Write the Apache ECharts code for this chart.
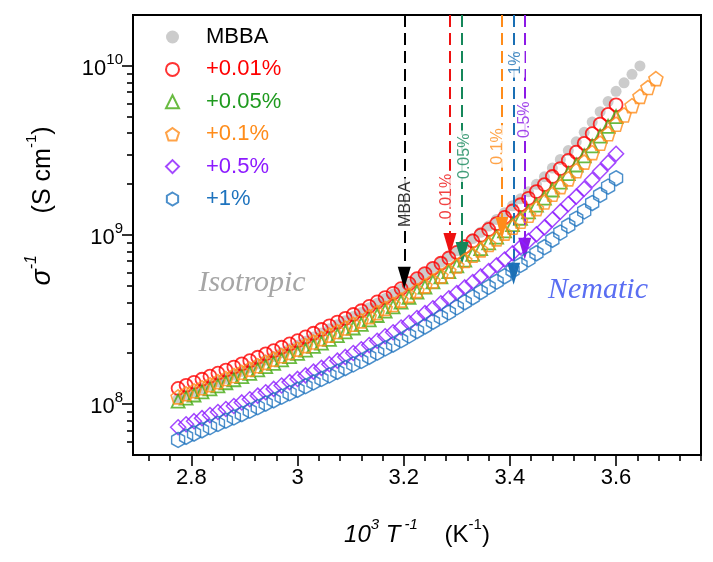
<!DOCTYPE html>
<html><head><meta charset="utf-8">
<script src="https://cdn.jsdelivr.net/npm/echarts@6/dist/echarts.min.js"></script>
<style>html,body{margin:0;padding:0;background:#fff}#c{width:713px;height:562px}</style>
</head><body><div id="c"></div>
<script>
// ---- data ----
const X = [2.775,2.790,2.805,2.820,2.835,2.850,2.865,2.880,2.895,2.910,2.925,2.940,2.955,2.970,2.985,3.000,3.015,3.030,3.045,3.060,3.075,3.090,3.105,3.120,3.135,3.150,3.165,3.180,3.195,3.210,3.225,3.240,3.255,3.270,3.285,3.300,3.315,3.330,3.345,3.360,3.375,3.390,3.405,3.420,3.435,3.450,3.465,3.480,3.495,3.510,3.525,3.540,3.555,3.570,3.585,3.600,3.615,3.630,3.645,3.660,3.675];
const MBBA = [1.076e8,1.127e8,1.180e8,1.236e8,1.294e8,1.355e8,1.419e8,1.486e8,1.560e8,1.641e8,1.726e8,1.820e8,1.910e8,2.014e8,2.123e8,2.228e8,2.355e8,2.495e8,2.636e8,2.786e8,2.944e8,3.112e8,3.296e8,3.483e8,3.715e8,3.954e8,4.217e8,4.477e8,4.797e8,5.140e8,5.534e8,5.957e8,6.427e8,6.902e8,7.447e8,8.072e8,8.770e8,9.528e8,1.038e9,1.130e9,1.236e9,1.355e9,1.489e9,1.637e9,1.803e9,1.995e9,2.208e9,2.489e9,2.799e9,3.155e9,3.556e9,4.046e9,4.656e9,5.358e9,6.152e9,7.079e9,7.943e9,8.913e9,1.000e10];
const P001 = [1.239e8,1.291e8,1.346e8,1.403e8,1.462e8,1.524e8,1.589e8,1.656e8,1.730e8,1.807e8,1.892e8,1.982e8,2.070e8,2.168e8,2.270e8,2.371e8,2.495e8,2.624e8,2.761e8,2.904e8,3.055e8,3.214e8,3.388e8,3.565e8,3.784e8,4.018e8,4.266e8,4.519e8,4.819e8,5.152e8,5.521e8,5.916e8,6.353e8,6.808e8,7.311e8,7.889e8,8.531e8,9.226e8,9.977e8,1.079e9,1.169e9,1.271e9,1.387e9,1.510e9,1.648e9,1.807e9,1.986e9,2.218e9,2.472e9,2.761e9,3.090e9,3.483e9,3.972e9,4.529e9,5.164e9,5.888e9];
const P005 = [1.042e8,1.086e8,1.132e8,1.180e8,1.230e8,1.282e8,1.337e8,1.393e8,1.455e8,1.521e8,1.592e8,1.667e8,1.742e8,1.824e8,1.910e8,1.995e8,2.084e8,2.193e8,2.296e8,2.415e8,2.541e8,2.673e8,2.818e8,2.965e8,3.148e8,3.342e8,3.548e8,3.758e8,4.009e8,4.285e8,4.592e8,4.920e8,5.284e8,5.662e8,6.081e8,6.561e8,7.096e8,7.674e8,8.299e8,8.974e8,9.727e8,1.057e9,1.153e9,1.256e9,1.371e9,1.503e9,1.652e9,1.845e9,2.056e9,2.307e9,2.594e9,2.938e9,3.365e9,3.846e9,4.395e9,5.012e9];
const P01 = [1.104e8,1.151e8,1.199e8,1.250e8,1.303e8,1.358e8,1.416e8,1.476e8,1.542e8,1.611e8,1.687e8,1.766e8,1.845e8,1.932e8,2.023e8,2.113e8,2.218e8,2.328e8,2.438e8,2.559e8,2.685e8,2.818e8,2.965e8,3.105e8,3.289e8,3.475e8,3.681e8,3.882e8,4.121e8,4.395e8,4.688e8,5.000e8,5.346e8,5.715e8,6.109e8,6.561e8,7.063e8,7.586e8,8.166e8,8.790e8,9.484e8,1.026e9,1.112e9,1.205e9,1.309e9,1.432e9,1.567e9,1.742e9,1.932e9,2.148e9,2.399e9,2.698e9,3.069e9,3.491e9,3.972e9,4.519e9,5.129e9,5.821e9,6.607e9,7.447e9,8.414e9];
const P05 = [7.295e7,7.603e7,7.925e7,8.260e7,8.610e7,8.974e7,9.354e7,9.750e7,1.023e8,1.069e8,1.122e8,1.175e8,1.230e8,1.288e8,1.349e8,1.409e8,1.479e8,1.556e8,1.637e8,1.722e8,1.807e8,1.901e8,2.004e8,2.109e8,2.234e8,2.371e8,2.518e8,2.661e8,2.838e8,3.027e8,3.228e8,3.451e8,3.690e8,3.945e8,4.227e8,4.539e8,4.898e8,5.272e8,5.689e8,6.124e8,6.622e8,7.161e8,7.798e8,8.472e8,9.226e8,1.009e9,1.109e9,1.236e9,1.374e9,1.524e9,1.687e9,1.879e9,2.113e9,2.382e9,2.679e9,3.020e9];
const P1 = [6.138e7,6.412e7,6.699e7,6.998e7,7.311e7,7.638e7,7.980e7,8.337e7,8.730e7,9.141e7,9.594e7,1.007e8,1.054e8,1.107e8,1.161e8,1.216e8,1.276e8,1.343e8,1.409e8,1.479e8,1.552e8,1.633e8,1.718e8,1.799e8,1.905e8,2.014e8,2.133e8,2.249e8,2.388e8,2.541e8,2.704e8,2.877e8,3.069e8,3.266e8,3.483e8,3.733e8,3.999e8,4.285e8,4.603e8,4.932e8,5.297e8,5.702e8,6.166e8,6.653e8,7.178e8,7.798e8,8.472e8,9.376e8,1.033e9,1.135e9,1.247e9,1.380e9,1.545e9,1.726e9,1.932e9,2.163e9];

const SERIES_NAMES = ['MBBA','+0.01%','+0.05%','+0.1%','+0.5%','+1%'];
const X_MAJOR = [2.8,3.0,3.2,3.4,3.6];
const X_MINOR = [2.72,2.76,2.84,2.88,2.92,2.96,3.04,3.08,3.12,3.16,3.24,3.28,3.32,3.36,3.44,3.48,3.52,3.56,3.64,3.68,3.72,3.76];
const Y_MAJOR = [1e8,1e9,1e10];
const Y_MINOR = [6e7,7e7,8e7,9e7,2e8,3e8,4e8,5e8,6e8,7e8,8e8,9e8,2e9,3e9,4e9,5e9,6e9,7e9,8e9,9e9];

// transition arrows (x = transition, end = where the dashed line meets the arrow head)
const ARROW_NAMES = ['MBBA','0.01%','0.05%','0.1%','1%','0.5%'];
const ARROW_X = [3.201,3.287,3.310,3.385,3.407,3.428];
const ARROW_END = [5.58e8,8.85e8,7.83e8,1.10e9,5.90e8,8.28e8];
const ARROW_LABEL_X = [3.203,3.280,3.314,3.377,3.411,3.428];
const ARROW_LABEL_Y = [1.52e9,1.69e9,2.92e9,3.34e9,1.04e10,4.81e9];

// ---- styles ----
const F = '"Liberation Sans", Arial, Helvetica, sans-serif';
const C = {gray:'rgba(128,128,128,0.5)', red:'#ff0000', green:'#44aa11', greenText:'#1f9a1f', orange:'#ff8c1a', purple:'#8c1aff', blue:'#1e73be'};
const ARROW_COLORS = ['#000000','#ee1111','#15875a','#ff8c1a','#1a6fb4','#8c1ae6'];

const pairs = ys => ys.map((v,i)=>[X[i], v]);
const hollow = (col,w) => ({color:'rgba(0,0,0,0)', borderColor:col, borderWidth:w||1.5});

const PENT = 'path://M0,-10L9.51,-3.09L5.88,8.09L-5.88,8.09L-9.51,-3.09Z';
const DIAM = 'path://M0,-10L10,0L0,10L-10,0Z';
const HEX = 'path://M0,-10L8.66,-5L8.66,5L0,10L-8.66,5L-8.66,-5Z';

const series = [
  {name:SERIES_NAMES[0], type:'scatter', data:pairs(MBBA), symbol:'circle', symbolSize:11, itemStyle:{color:C.gray}, z:2},
  {name:SERIES_NAMES[1], type:'scatter', data:pairs(P001), symbol:'circle', symbolSize:13, itemStyle:hollow(C.red,1.8), z:3},
  {name:SERIES_NAMES[2], type:'scatter', data:pairs(P005), symbol:'triangle', symbolSize:13, itemStyle:hollow(C.green,1.8), z:4},
  {name:SERIES_NAMES[3], type:'scatter', data:pairs(P01), symbol:PENT, symbolSize:[14,14], itemStyle:hollow(C.orange,1.6), z:5},
  {name:SERIES_NAMES[4], type:'scatter', data:pairs(P05), symbol:DIAM, symbolSize:[15,15], itemStyle:hollow(C.purple,1.5), z:6},
  {name:SERIES_NAMES[5], type:'scatter', data:pairs(P1), symbol:HEX, symbolSize:[13,15], itemStyle:hollow(C.blue,1.5), z:7},
  {name:'annot', type:'scatter', z:20, silent:true, symbolSize:0,
    data: ARROW_NAMES.map((n,i)=>({value:[ARROW_LABEL_X[i], ARROW_LABEL_Y[i]], label:{formatter:n, color:ARROW_COLORS[i]}})),
    label:{show:true, position:'inside', rotate:90, fontSize:16, fontFamily:F, backgroundColor:'#fff', padding:[1,3]},
    markLine:{silent:true, symbol:['none','triangle'], symbolSize:[13,22], label:{show:false},
      lineStyle:{type:[12,6], width:2}, animation:false,
      data: ARROW_X.map((x,i)=>[
        {coord:[x, 2e10], lineStyle:{color:ARROW_COLORS[i], type:[12,6], width:2}, itemStyle:{color:ARROW_COLORS[i]}},
        {coord:[x, ARROW_END[i]]}
      ])
    }
  }
];

const legendColors = ['#000', C.red, C.greenText, C.orange, C.purple, C.blue];

const option = {
  animation:false,
  backgroundColor:'#fff',
  grid:{left:133, right:12, top:15, bottom:107, show:true, borderColor:'#000', borderWidth:2},
  legend:{orient:'vertical', left:160, top:21, itemWidth:13, itemHeight:13, itemGap:10.4,
    textStyle:{fontSize:22, fontFamily:F, lineHeight:20, padding:[0,0,0,22]},
    data: SERIES_NAMES.map((n,i)=>({name:n, textStyle:{color:legendColors[i]}}))},
  xAxis:[
    {type:'value', min:2.69, max:3.76, position:'bottom',
     axisLine:{onZero:false, lineStyle:{color:'#000', width:2}},
     axisTick:{customValues:X_MAJOR, length:11, lineStyle:{color:'#000', width:1.6}},
     axisLabel:{customValues:X_MAJOR, formatter:v=>String(+v.toFixed(1)), fontSize:22, fontFamily:F, color:'#000', margin:12},
     splitLine:{show:false},
     name:'{i|10}{is|3}{i| T}{is| -1}{n|    (K}{s|-1}{n|)}', nameLocation:'middle', nameGap:62,
     nameTextStyle:{rich:{
       i:{fontSize:24, fontStyle:'italic', fontFamily:F, color:'#000', lineHeight:30, verticalAlign:'bottom'},
       is:{fontSize:15, fontStyle:'italic', fontFamily:F, color:'#000', lineHeight:30, verticalAlign:'top'},
       n:{fontSize:24, fontFamily:F, color:'#000', lineHeight:30, verticalAlign:'bottom'},
       s:{fontSize:15, fontFamily:F, color:'#000', lineHeight:30, verticalAlign:'top'}}}},
    {type:'value', min:2.69, max:3.76, position:'bottom',
     axisLine:{show:false, onZero:false},
     axisTick:{customValues:X_MINOR, length:6, lineStyle:{color:'#000', width:1.6}},
     axisLabel:{show:false}, splitLine:{show:false}}
  ],
  yAxis:[
    {type:'log', logBase:10, min:5e7, max:2e10, position:'left',
     axisLine:{onZero:false, lineStyle:{color:'#000', width:2}},
     axisTick:{customValues:Y_MAJOR, length:11, lineStyle:{color:'#000', width:1.6}},
     axisLabel:{customValues:Y_MAJOR, formatter:v=>'{b|10}{s|'+Math.round(Math.log10(v))+'}', margin:10,
       rich:{b:{fontSize:22, fontFamily:F, color:'#000', lineHeight:28, verticalAlign:'bottom'},
             s:{fontSize:15, fontFamily:F, color:'#000', lineHeight:28, verticalAlign:'top'}}},
     splitLine:{show:false},
     name:'{i|σ}{is|-1}{n|      (S cm}{s|-1}{n|)}', nameLocation:'middle', nameGap:77,
     nameTextStyle:{padding:[0,0,0,58], rich:{
       i:{fontSize:27, fontStyle:'italic', fontFamily:F, color:'#000', lineHeight:32, verticalAlign:'bottom'},
       is:{fontSize:16, fontStyle:'italic', fontFamily:F, color:'#000', lineHeight:32, verticalAlign:'top'},
       n:{fontSize:25, fontFamily:F, color:'#000', lineHeight:32, verticalAlign:'bottom'},
       s:{fontSize:15, fontFamily:F, color:'#000', lineHeight:32, verticalAlign:'top'}}}},
    {type:'log', logBase:10, min:5e7, max:2e10, position:'left',
     axisLine:{show:false, onZero:false},
     axisTick:{customValues:Y_MINOR, length:6, lineStyle:{color:'#000', width:1.6}},
     axisLabel:{show:false}, splitLine:{show:false}}
  ],
  graphic:[
    {type:'text', x:252, y:283, silent:true, style:{text:'Isotropic', fontSize:30, fontStyle:'italic', fontFamily:'"Liberation Serif", "Times New Roman", serif', fill:'#a6a6a6', align:'center', verticalAlign:'middle'}},
    {type:'text', x:598, y:290, silent:true, style:{text:'Nematic', fontSize:30, fontStyle:'italic', fontFamily:'"Liberation Serif", "Times New Roman", serif', fill:'#5a6ef2', align:'center', verticalAlign:'middle'}}
  ],
  series: series
};

const chart = echarts.init(document.getElementById('c'), null, {renderer:'canvas'});
chart.setOption(option);
</script>
</body></html>
